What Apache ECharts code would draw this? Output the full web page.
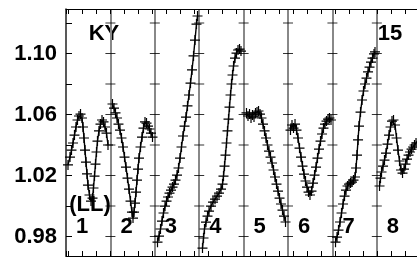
<!DOCTYPE html>
<html>
<head>
  <meta charset="UTF-8">
  <title>KY light curve</title>
  <script src="https://cdn.jsdelivr.net/npm/echarts@6/dist/echarts.min.js"></script>
</head>
<body style="margin: 0;background: #fff;">
<div id="chart" style="width: 417px;height: 258px;"></div>
<script>
// phase inside each panel (0..1) and relative flux
var panel1 = [[0.045,1.0269],[0.090,1.0321],[0.124,1.0367],[0.158,1.0413],[0.191,1.0465],[0.225,1.0518],[0.259,1.0564],[0.293,1.0590],[0.327,1.0603],[0.360,1.0577],[0.383,1.0518],[0.405,1.0446],[0.428,1.0367],[0.450,1.0288],[0.473,1.0210],[0.495,1.0137],[0.529,1.0072],[0.563,1.0032],[0.597,1.0052],[0.619,1.0118],[0.642,1.0196],[0.664,1.0275],[0.687,1.0354],[0.709,1.0426],[0.743,1.0492],[0.777,1.0537],[0.811,1.0564],[0.845,1.0551],[0.878,1.0518],[0.912,1.0478],[0.946,1.0400]];
var panel2 = [[0.047,1.0669],[0.081,1.0642],[0.115,1.0610],[0.149,1.0577],[0.182,1.0537],[0.216,1.0498],[0.250,1.0446],[0.284,1.0387],[0.318,1.0321],[0.351,1.0255],[0.385,1.0183],[0.419,1.0111],[0.453,1.0032],[0.486,0.9960],[0.509,0.9921],[0.532,0.9960],[0.554,1.0019],[0.577,1.0091],[0.599,1.0170],[0.622,1.0242],[0.644,1.0314],[0.678,1.0387],[0.712,1.0452],[0.745,1.0511],[0.779,1.0551],[0.813,1.0544],[0.847,1.0524],[0.880,1.0505],[0.914,1.0478],[0.948,1.0452]];
var panel3 = [[0.061,0.9763],[0.095,0.9803],[0.128,0.9849],[0.162,0.9901],[0.196,0.9954],[0.230,0.9999],[0.264,1.0032],[0.297,1.0059],[0.331,1.0085],[0.365,1.0104],[0.399,1.0124],[0.432,1.0144],[0.466,1.0170],[0.500,1.0203],[0.534,1.0249],[0.568,1.0314],[0.601,1.0387],[0.635,1.0459],[0.669,1.0524],[0.703,1.0583],[0.736,1.0656],[0.770,1.0728],[0.804,1.0806],[0.838,1.0892],[0.872,1.0984],[0.905,1.1088],[0.939,1.1193],[0.962,1.1246]];
var panel4 = [[0.074,0.9724],[0.097,0.9790],[0.119,0.9849],[0.153,0.9894],[0.187,0.9934],[0.221,0.9967],[0.266,0.9999],[0.311,1.0026],[0.356,1.0045],[0.401,1.0065],[0.446,1.0085],[0.491,1.0111],[0.525,1.0144],[0.547,1.0196],[0.570,1.0262],[0.592,1.0334],[0.615,1.0413],[0.637,1.0492],[0.660,1.0570],[0.682,1.0649],[0.705,1.0728],[0.727,1.0800],[0.750,1.0859],[0.773,1.0918],[0.806,1.0970],[0.840,1.1003],[0.874,1.1023],[0.908,1.1029],[0.941,1.1016]];
var panel5 = [[0.065,1.0610],[0.099,1.0590],[0.133,1.0603],[0.167,1.0577],[0.200,1.0597],[0.234,1.0584],[0.268,1.0610],[0.302,1.0616],[0.336,1.0623],[0.369,1.0603],[0.403,1.0577],[0.437,1.0537],[0.471,1.0492],[0.505,1.0446],[0.538,1.0400],[0.572,1.0360],[0.606,1.0321],[0.640,1.0282],[0.674,1.0236],[0.707,1.0190],[0.741,1.0144],[0.775,1.0098],[0.809,1.0052],[0.842,1.0013],[0.876,0.9973],[0.910,0.9934],[0.944,0.9895]];
var panel6 = [[0.056,1.0498],[0.090,1.0531],[0.124,1.0511],[0.158,1.0537],[0.191,1.0498],[0.225,1.0446],[0.259,1.0380],[0.293,1.0321],[0.327,1.0262],[0.360,1.0209],[0.394,1.0164],[0.428,1.0124],[0.462,1.0091],[0.495,1.0072],[0.529,1.0098],[0.563,1.0150],[0.597,1.0203],[0.631,1.0255],[0.664,1.0314],[0.698,1.0373],[0.732,1.0426],[0.766,1.0472],[0.799,1.0511],[0.833,1.0537],[0.867,1.0557],[0.901,1.0570],[0.934,1.0577],[0.968,1.0564]];
var panel7 = [[0.070,0.9763],[0.104,0.9796],[0.137,0.9842],[0.171,0.9895],[0.205,0.9954],[0.239,1.0013],[0.273,1.0065],[0.306,1.0104],[0.340,1.0131],[0.374,1.0144],[0.408,1.0150],[0.441,1.0157],[0.475,1.0170],[0.509,1.0190],[0.532,1.0249],[0.554,1.0334],[0.577,1.0433],[0.599,1.0524],[0.633,1.0616],[0.667,1.0695],[0.700,1.0754],[0.734,1.0800],[0.768,1.0839],[0.802,1.0879],[0.836,1.0911],[0.869,1.0944],[0.903,1.0970],[0.937,1.0997],[0.959,1.1010]];
var panel8 = [[0.061,1.0131],[0.083,1.0183],[0.106,1.0223],[0.140,1.0262],[0.173,1.0301],[0.207,1.0347],[0.241,1.0406],[0.275,1.0465],[0.309,1.0518],[0.342,1.0557],[0.376,1.0564],[0.410,1.0531],[0.444,1.0446],[0.477,1.0367],[0.511,1.0295],[0.545,1.0236],[0.579,1.0216],[0.613,1.0242],[0.646,1.0275],[0.680,1.0308],[0.714,1.0334],[0.748,1.0354],[0.782,1.0373],[0.815,1.0387],[0.849,1.0400],[0.883,1.0413],[0.916,1.0426],[0.950,1.0439]];
var panels = [panel1, panel2, panel3, panel4, panel5, panel6, panel7, panel8];

var panelNums = ['1', '2', '3', '4', '5', '6', '7', '8'];
var yLabels = ['0.98', '1.02', '1.06', '1.10'];
var yTicks = [0.98, 1.00, 1.02, 1.04, 1.06, 1.08, 1.10, 1.12];
var separators = [1, 2, 3, 4, 5, 6, 7];

var plusSym = 'path://M0,5L10,5M5,0L5,10';
var font = 'bold 22px "Liberation Sans", Arial, sans-serif';

var series = [];
for (var k = 0; k < panels.length; ++k) {
    var pts = [];
    for (var i = 0; i < panels[k].length; ++i) {
        pts.push([panels[k][i][0] + k, panels[k][i][1]]);
    }
    series.push({
        type: 'line',
        xAxisIndex: 0,
        data: pts,
        symbol: plusSym,
        symbolSize: 10,
        showAllSymbol: true,
        itemStyle: {color: 'none', borderColor: '#000', borderWidth: 1.2},
        lineStyle: {color: '#000', width: 1.4},
        z: 3
    });
}

// little crossing ticks on every panel separator
var crossTicks = [];
for (var s = 0; s < separators.length; ++s) {
    for (var t = 0; t < yTicks.length; ++t) {
        crossTicks.push([separators[s], yTicks[t]]);
    }
}
series.push({
    type: 'scatter',
    xAxisIndex: 0,
    data: crossTicks,
    symbol: 'rect',
    symbolSize: [10, 1],
    itemStyle: {color: '#000'},
    silent: true,
    z: 4
});

var graphics = [
    {type: 'text', style: {text: 'KY', x: 104, y: 34, font: font, fill: '#000', textAlign: 'center', textVerticalAlign: 'middle'}},
    {type: 'text', style: {text: '15', x: 390, y: 34, font: font, fill: '#000', textAlign: 'center', textVerticalAlign: 'middle'}},
    {type: 'text', style: {text: '(LL)', x: 90, y: 205, font: font, fill: '#000', textAlign: 'center', textVerticalAlign: 'middle'}}
];
for (var n = 0; n < panelNums.length; ++n) {
    graphics.push({type: 'text', style: {text: panelNums[n], x: 76 + 44.4 * n, y: 227, font: font, fill: '#000', textAlign: 'left', textVerticalAlign: 'middle'}});
}

function tickAxis(pos) {
    return {
        type: 'value',
        position: pos,
        min: -0.164,
        max: 24.85,
        splitNumber: 25,
        minInterval: 1,
        maxInterval: 1,
        axisLine: {show: true, onZero: false, lineStyle: {color: '#000', width: 1}},
        axisTick: {show: true, inside: true, length: 5, lineStyle: {color: '#000', width: 1}},
        axisLabel: {show: false},
        splitLine: {show: false}
    };
}

var option = {
    animation: false,
    grid: {left: 66, right: 0, top: 9, bottom: 2},
    xAxis: [
        {
            type: 'value',
            position: 'bottom',
            min: 0,
            max: 7.905,
            interval: 1,
            axisLine: {show: false},
            axisTick: {show: false},
            axisLabel: {show: false},
            splitLine: {show: true, showMinLine: false, showMaxLine: false, lineStyle: {color: '#888', width: 2}}
        },
        tickAxis('bottom'),
        tickAxis('top')
    ],
    yAxis: {
        type: 'value',
        min: 0.96721,
        max: 1.12918,
        splitNumber: 8,
        minInterval: 0.02,
        maxInterval: 0.02,
        axisLine: {show: true, onZero: false, lineStyle: {color: '#222', width: 1.5}},
        axisTick: {show: true, inside: true, length: 6, lineStyle: {color: '#000', width: 1}},
        axisLabel: {
            margin: 9,
            color: '#000',
            fontSize: 22,
            fontWeight: 'bold',
            fontFamily: 'Liberation Sans',
            formatter: function (v) {
                var s = v.toFixed(2);
                return yLabels.indexOf(s) >= 0 ? s : '';
            }
        },
        splitLine: {show: false}
    },
    graphic: graphics,
    series: series
};

var chart = echarts.init(document.getElementById('chart'));
chart.setOption(option);
</script>
</body>
</html>
